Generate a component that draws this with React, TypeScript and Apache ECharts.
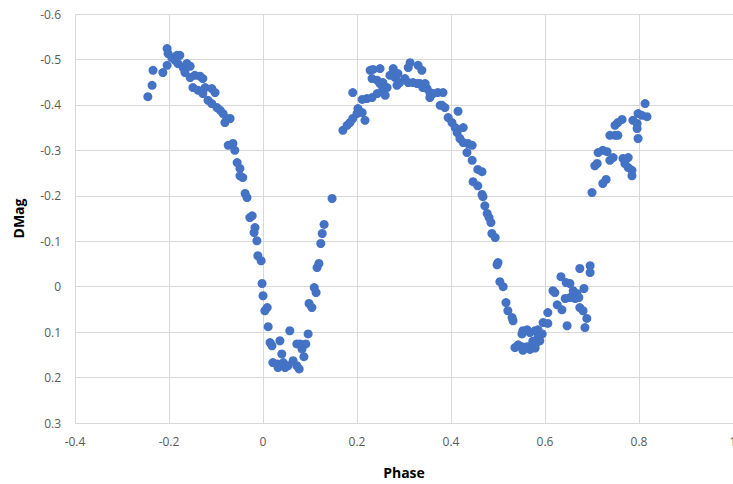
import React, { useEffect, useRef } from "react";
import * as echarts from "echarts";

const xTicks = { min: -0.4, max: 1, interval: 0.2 };
const yTicks = { min: -0.6, max: 0.3, interval: 0.1 };

// [phase, dmag]
const primaryMinBranch: number[][] = [
  [-0.245, -0.418], [-0.236, -0.443], [-0.234, -0.476], [-0.213, -0.471], [-0.204, -0.524],
  [-0.202, -0.513], [-0.204, -0.487], [-0.194, -0.504], [-0.187, -0.498], [-0.183, -0.509],
  [-0.177, -0.509], [-0.181, -0.491], [-0.17, -0.482], [-0.162, -0.491], [-0.155, -0.485],
  [-0.166, -0.471], [-0.155, -0.46], [-0.145, -0.465], [-0.134, -0.463], [-0.128, -0.458],
  [-0.149, -0.438], [-0.138, -0.432], [-0.123, -0.438], [-0.128, -0.425], [-0.109, -0.436],
  [-0.102, -0.427], [-0.117, -0.41], [-0.109, -0.403], [-0.098, -0.394], [-0.091, -0.388],
  [-0.085, -0.381], [-0.077, -0.37], [-0.07, -0.37], [-0.081, -0.361], [-0.074, -0.311],
  [-0.064, -0.315], [-0.06, -0.3], [-0.055, -0.273], [-0.049, -0.26], [-0.049, -0.244],
  [-0.043, -0.24], [-0.038, -0.205], [-0.034, -0.196], [-0.028, -0.152], [-0.023, -0.156],
  [-0.017, -0.13], [-0.019, -0.119], [-0.013, -0.101], [-0.011, -0.068], [-0.004, -0.057],
  [-0.002, -0.007], [0.0, 0.02], [0.009, 0.046], [0.004, 0.053], [0.011, 0.088],
  [0.015, 0.123], [0.019, 0.13], [0.036, 0.119], [0.04, 0.148], [0.021, 0.167],
  [0.03, 0.17], [0.032, 0.178], [0.043, 0.167], [0.047, 0.178], [0.053, 0.174],
  [0.057, 0.097], [0.064, 0.163], [0.072, 0.174], [0.077, 0.181], [0.072, 0.126],
  [0.079, 0.126], [0.083, 0.137], [0.087, 0.154], [0.091, 0.126], [0.096, 0.104],
  [0.098, 0.037], [0.104, 0.046], [0.109, 0.002], [0.113, 0.013], [0.115, -0.042],
  [0.119, -0.051], [0.123, -0.095], [0.126, -0.117], [0.13, -0.137], [0.147, -0.194],
];

const maximumHump: number[][] = [
  [0.17, -0.344], [0.179, -0.355], [0.185, -0.361], [0.191, -0.37], [0.2, -0.381],
  [0.202, -0.392], [0.211, -0.383], [0.217, -0.366], [0.191, -0.427], [0.211, -0.412],
  [0.221, -0.414], [0.232, -0.416], [0.243, -0.425], [0.228, -0.476], [0.234, -0.478],
  [0.249, -0.48], [0.232, -0.458], [0.243, -0.454], [0.249, -0.447], [0.255, -0.449],
  [0.255, -0.436], [0.264, -0.438], [0.26, -0.421], [0.27, -0.465], [0.277, -0.48],
  [0.281, -0.46], [0.287, -0.469], [0.291, -0.449], [0.285, -0.443], [0.302, -0.458],
  [0.309, -0.449], [0.313, -0.493], [0.309, -0.482], [0.33, -0.487], [0.338, -0.476],
  [0.319, -0.449], [0.328, -0.447], [0.334, -0.447], [0.345, -0.447], [0.34, -0.438],
  [0.349, -0.436], [0.355, -0.427], [0.362, -0.425], [0.372, -0.427], [0.383, -0.427],
  [0.355, -0.416], [0.377, -0.399], [0.387, -0.394], [0.381, -0.399], [0.415, -0.386],
  [0.394, -0.372], [0.402, -0.361], [0.409, -0.35], [0.426, -0.35], [0.413, -0.339],
  [0.419, -0.326], [0.426, -0.317], [0.436, -0.315], [0.445, -0.311], [0.434, -0.295],
  [0.445, -0.278], [0.457, -0.258], [0.466, -0.253], [0.447, -0.231], [0.457, -0.222],
  [0.466, -0.203], [0.468, -0.198], [0.472, -0.178], [0.477, -0.161], [0.481, -0.152],
  [0.485, -0.141], [0.487, -0.117], [0.494, -0.108],
];

const secondaryMin: number[][] = [
  [0.5, -0.053], [0.498, -0.048], [0.504, -0.011], [0.511, 0.0], [0.517, 0.035],
  [0.521, 0.053], [0.53, 0.068], [0.532, 0.075], [0.553, 0.097], [0.562, 0.095],
  [0.568, 0.101], [0.579, 0.097], [0.585, 0.095], [0.594, 0.104], [0.585, 0.112],
  [0.589, 0.119], [0.551, 0.104], [0.536, 0.134], [0.543, 0.128], [0.551, 0.132],
  [0.553, 0.14], [0.562, 0.132], [0.568, 0.138], [0.572, 0.13], [0.579, 0.135],
  [0.583, 0.122], [0.574, 0.12], [0.596, 0.079], [0.606, 0.081], [0.606, 0.057],
  [0.617, 0.009], [0.621, 0.013], [0.626, 0.04], [0.636, 0.051], [0.634, -0.022],
  [0.645, -0.009], [0.653, -0.007], [0.643, 0.026], [0.653, 0.024], [0.66, 0.009],
  [0.668, 0.015], [0.664, 0.026], [0.672, 0.024], [0.683, 0.004], [0.674, 0.046],
  [0.681, 0.053], [0.689, 0.07], [0.685, 0.09], [0.647, 0.086], [0.674, -0.04],
  [0.696, -0.046], [0.696, -0.031],
];

const risingBranch: number[][] = [
  [0.7, -0.207], [0.723, -0.227], [0.73, -0.236], [0.706, -0.266], [0.711, -0.271],
  [0.713, -0.295], [0.723, -0.3], [0.732, -0.297], [0.738, -0.278], [0.745, -0.284],
  [0.738, -0.333], [0.749, -0.333], [0.755, -0.333], [0.749, -0.355], [0.755, -0.361],
  [0.764, -0.368], [0.766, -0.282], [0.777, -0.284], [0.77, -0.271], [0.777, -0.262],
  [0.785, -0.256], [0.785, -0.244], [0.787, -0.366], [0.796, -0.359], [0.798, -0.381],
  [0.806, -0.377], [0.796, -0.348], [0.798, -0.326], [0.813, -0.403], [0.817, -0.374],
];

const allPoints = [...primaryMinBranch, ...maximumHump, ...secondaryMin, ...risingBranch];

const fmt = (v: number) => String(Math.round(v * 10) / 10);

export default function App() {
  const ref = useRef<HTMLDivElement>(null);
  useEffect(() => {
    if (!ref.current) return;
    const chart = echarts.init(ref.current, undefined, { renderer: "svg" });
    const gridColor = "#d9d9d9";
    const family = "'Open Sans', 'Liberation Sans', sans-serif";
    const labelStyle = { color: "#595959", fontSize: 12, fontFamily: family };
    chart.setOption({
      animation: false,
      grid: { left: 75, right: 0, top: 14, bottom: 61, outerBoundsMode: "none", containLabel: false },
      xAxis: {
        type: "value",
        min: xTicks.min,
        max: xTicks.max,
        interval: xTicks.interval,
        axisLine: { show: false },
        axisTick: { show: false },
        splitLine: { show: true, lineStyle: { color: gridColor, width: 1 } },
        axisLabel: { ...labelStyle, margin: 12, formatter: fmt },
        name: "Phase",
        nameLocation: "middle",
        nameGap: 42,
        nameTextStyle: { fontSize: 14, fontWeight: "bold", color: "#000", fontFamily: family },
      },
      yAxis: {
        type: "value",
        inverse: true,
        min: yTicks.min,
        max: yTicks.max,
        interval: yTicks.interval,
        axisLine: { show: false },
        axisTick: { show: false },
        splitLine: { show: true, lineStyle: { color: gridColor, width: 1 } },
        axisLabel: { ...labelStyle, margin: 14, formatter: fmt },
        name: "DMag",
        nameLocation: "middle",
        nameGap: 50,
        nameRotate: 90,
        nameTextStyle: { fontSize: 14, fontWeight: "bold", color: "#000", fontFamily: family },
      },
      series: [
        {
          type: "scatter",
          data: allPoints,
          symbolSize: 9,
          itemStyle: { color: "#4472c4", opacity: 1 },
        },
      ],
    });
    return () => chart.dispose();
  }, []);
  return (
    <div
      ref={ref}
      style={{ position: "absolute", left: 0, top: 0, width: 733, height: 484, background: "#fff" }}
    />
  );
}
